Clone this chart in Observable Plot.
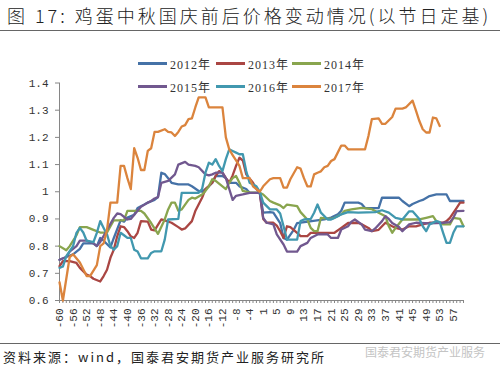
<!DOCTYPE html>
<html>
<head>
<meta charset="utf-8">
<script src="https://cdn.jsdelivr.net/npm/d3@7"></script>
<script src="https://cdn.jsdelivr.net/npm/@observablehq/plot@0.6"></script>
<style>
  html, body { margin: 0; padding: 0; background: #fff; }
  #wrap { position: relative; width: 500px; height: 374px; overflow: hidden; background: #fff; }
  #title { position: absolute; left: 7px; top: 5px; font-family: "Noto Sans CJK SC", sans-serif; font-weight: 300; font-size: 18px; line-height: 20px; letter-spacing: 3px; color: #222; white-space: nowrap; }
  .hr { position: absolute; left: 0; width: 500px; border-top: 1px solid #666; }
  #chart { position: absolute; left: 0; top: 40px; }
  #legend { position: absolute; left: 138px; top: 52px; display: grid; grid-template-columns: 78px 76px 78px; grid-auto-rows: 23px; }
  .item { display: flex; align-items: center; font-family: "Liberation Serif", "Noto Sans CJK SC", serif; font-size: 12px; letter-spacing: 1px; color: #333; white-space: nowrap; }
  .sw { display: inline-block; width: 29px; height: 3px; margin-right: 3px; }
  #source { position: absolute; left: 3px; top: 349px; font-family: "Noto Sans CJK SC", sans-serif; font-size: 13px; line-height: 16px; letter-spacing: 2px; color: #222; white-space: nowrap; }
  #wm { position: absolute; left: 365px; top: 344px; font-family: "Noto Sans CJK SC", sans-serif; font-size: 12px; line-height: 16px; color: #c4c4c4; white-space: nowrap; }
</style>
</head>
<body>
<div id="wrap">
  <div id="title">图 17: 鸡蛋中秋国庆前后价格变动情况(以节日定基)</div>
  <div class="hr" style="top:30px"></div>
  <div id="chart"></div>
  <div id="legend"></div>
  <div class="hr" style="top:343px"></div>
  <div id="source">资料来源：wind，国泰君安期货产业服务研究所</div>
  <div id="wm">国泰君安期货产业服务</div>
</div>
<script>
// ---- data (x = category position 0..119: days -60..-1, 1..60) ----
const years = ["2012年", "2013年", "2014年", "2015年", "2016年", "2017年"];
const colors = ["#4572A7", "#AA4643", "#89A54E", "#71588F", "#4198AF", "#DB843D"];
const xLabels = ["-60","-56","-52","-48","-44","-40","-36","-32","-28","-24","-20","-16","-12","-8","-4",
                 "1","5","9","13","17","21","25","29","33","37","41","45","49","53","57"];
const yTicks = [0.6, 0.7, 0.8, 0.9, 1.0, 1.1, 1.2, 1.3, 1.4];

const s2012 = [[0,0.75],[2,0.76],[4,0.77],[6,0.79],[7,0.81],[10,0.81],[11,0.80],[12,0.83],[13,0.82],[15,0.795],[16,0.83],[18,0.895],[19,0.89],[20,0.905],[22,0.915],[23,0.94],[25,0.953],[26,0.96],[28,0.97],[29,0.98],[30,1.07],[31,1.065],[32,1.05],[33,1.033],[35,1.027],[38,1.027],[39,1.02],[41,1.003],[42,1.0],[43,1.01],[44,1.02],[45,1.033],[46,1.058],[48,1.058],[49,1.05],[50,1.033],[52,1.033],[53,1.02],[55,1.01],[56,0.996],[59,0.996],[60,0.923],[62,0.925],[63,0.923],[65,0.885],[66,0.83],[67,0.824],[69,0.86],[70,0.885],[78,0.898],[80,0.905],[82,0.917],[83,0.93],[84,0.96],[88,0.96],[89,0.955],[90,0.94],[94,0.94],[95,0.978],[100,0.978],[101,0.966],[103,0.947],[104,0.955],[106,0.966],[107,0.97],[109,0.984],[111,0.99],[114,0.99],[115,0.966],[119,0.966]];
const s2013 = [[0,0.726],[1,0.745],[3,0.745],[5,0.738],[6,0.72],[8,0.695],[9,0.69],[10,0.68],[12,0.67],[13,0.69],[14,0.713],[15,0.757],[16,0.787],[17,0.836],[18,0.873],[19,0.87],[20,0.855],[21,0.836],[22,0.83],[23,0.849],[24,0.892],[26,0.89],[27,0.861],[28,0.858],[30,0.898],[31,0.895],[33,0.886],[35,0.87],[36,0.861],[37,0.865],[39,0.892],[40,0.929],[42,0.978],[43,1.01],[45,1.033],[46,1.058],[47,1.076],[48,1.07],[49,1.05],[50,1.033],[51,1.06],[52,1.095],[53,1.125],[54,1.115],[55,1.064],[57,1.033],[58,1.01],[59,0.996],[60,0.9],[61,0.886],[63,0.886],[64,0.875],[65,0.855],[66,0.83],[67,0.873],[68,0.87],[70,0.849],[71,0.837],[73,0.837],[74,0.849],[81,0.849],[83,0.867],[84,0.876],[85,0.885],[88,0.886],[89,0.88],[91,0.867],[92,0.855],[94,0.86],[96,0.886],[98,0.873],[99,0.867],[101,0.861],[103,0.873],[105,0.873],[107,0.88],[109,0.886],[113,0.886],[114,0.892],[115,0.904],[117,0.941],[118,0.96],[119,0.96]];
const s2014 = [[0,0.80],[2,0.785],[3,0.80],[5,0.84],[6,0.87],[8,0.87],[10,0.86],[12,0.85],[14,0.85],[16,0.895],[19,0.895],[20,0.93],[24,0.93],[25,0.92],[27,0.885],[29,0.845],[31,0.898],[32,0.935],[33,0.96],[34,0.96],[35,0.93],[36,0.935],[38,0.97],[39,0.978],[40,0.975],[42,0.99],[43,1.003],[44,1.02],[45,1.046],[46,1.04],[48,1.02],[49,1.01],[50,1.033],[51,1.05],[52,1.058],[53,1.033],[54,1.003],[56,0.998],[59,0.996],[60,0.99],[62,0.966],[63,0.96],[65,0.95],[66,0.94],[67,0.953],[70,0.947],[71,0.925],[73,0.898],[74,0.867],[75,0.855],[76,0.855],[77,0.904],[80,0.9],[81,0.904],[83,0.917],[84,0.93],[86,0.935],[89,0.941],[92,0.936],[94,0.923],[96,0.91],[97,0.873],[98,0.849],[99,0.867],[101,0.898],[106,0.898],[108,0.904],[110,0.91],[111,0.892],[113,0.88],[115,0.88],[116,0.904],[118,0.9],[119,0.873]];
const s2015 = [[0,0.75],[2,0.76],[3,0.78],[5,0.80],[6,0.82],[8,0.82],[10,0.81],[11,0.80],[12,0.815],[14,0.86],[16,0.904],[17,0.92],[18,0.918],[20,0.898],[21,0.9],[23,0.93],[24,0.945],[26,0.96],[27,0.966],[28,0.975],[29,0.98],[30,1.033],[32,1.04],[34,1.064],[35,1.1],[37,1.11],[38,1.1],[40,1.095],[41,1.09],[43,1.064],[44,1.06],[45,1.064],[46,1.07],[48,1.07],[49,1.05],[50,1.01],[51,0.97],[52,0.985],[54,0.99],[56,0.996],[59,0.996],[60,0.904],[61,0.886],[63,0.88],[64,0.843],[66,0.806],[67,0.78],[70,0.78],[71,0.8],[73,0.812],[74,0.83],[76,0.843],[79,0.843],[80,0.83],[82,0.83],[83,0.861],[85,0.873],[86,0.89],[87,0.898],[89,0.88],[90,0.861],[92,0.855],[93,0.865],[95,0.892],[96,0.91],[97,0.9],[98,0.885],[100,0.87],[101,0.855],[103,0.88],[105,0.886],[109,0.884],[113,0.886],[115,0.888],[116,0.904],[117,0.929],[119,0.93]];
const s2016 = [[0,0.72],[1,0.725],[2,0.763],[4,0.8],[5,0.849],[6,0.867],[7,0.85],[8,0.82],[10,0.815],[11,0.849],[12,0.892],[13,0.867],[14,0.843],[15,0.8],[16,0.787],[17,0.8],[18,0.849],[19,0.84],[20,0.83],[21,0.83],[22,0.787],[23,0.78],[24,0.755],[26,0.755],[27,0.775],[28,0.781],[30,0.781],[31,0.824],[32,0.898],[35,0.9],[36,0.996],[41,0.996],[42,1.01],[43,1.07],[44,1.107],[45,1.1],[46,1.12],[47,1.095],[48,1.076],[49,1.12],[50,1.156],[51,1.15],[52,1.144],[53,1.138],[54,1.138],[55,1.076],[56,1.033],[58,1.02],[59,1.0],[60,0.96],[62,0.935],[64,0.935],[65,0.92],[66,0.873],[67,0.824],[70,0.824],[71,0.892],[72,0.898],[74,0.9],[75,0.923],[76,0.953],[77,0.923],[79,0.898],[80,0.898],[82,0.91],[83,0.917],[85,0.925],[88,0.923],[93,0.925],[95,0.932],[97,0.923],[99,0.904],[101,0.898],[103,0.928],[104,0.928],[106,0.9],[107,0.873],[108,0.855],[109,0.88],[111,0.892],[112,0.888],[113,0.849],[114,0.812],[115,0.812],[116,0.849],[117,0.873],[119,0.873]];
const s2017 = [[0,0.667],[1,0.6],[3,0.76],[4,0.77],[6,0.74],[8,0.69],[9,0.69],[11,0.73],[12,0.80],[13,0.81],[14,0.86],[15,0.96],[17,0.96],[18,1.095],[19,1.095],[20,1.05],[21,1.01],[22,1.16],[23,1.125],[24,1.08],[25,1.08],[26,1.15],[27,1.16],[28,1.22],[29,1.22],[31,1.23],[32,1.22],[33,1.218],[34,1.205],[35,1.22],[36,1.24],[37,1.245],[38,1.267],[39,1.27],[40,1.31],[41,1.347],[43,1.347],[44,1.31],[48,1.31],[49,1.2],[50,1.156],[51,1.135],[52,1.115],[53,1.095],[54,1.05],[56,1.05],[57,1.02],[59,1.0],[60,1.02],[62,1.046],[63,1.05],[65,1.05],[66,1.015],[67,1.015],[68,1.046],[70,1.09],[71,1.085],[72,1.05],[73,1.02],[74,1.02],[75,1.064],[76,1.07],[77,1.075],[78,1.09],[79,1.095],[80,1.113],[81,1.12],[83,1.17],[84,1.17],[85,1.156],[90,1.156],[91,1.205],[92,1.267],[94,1.27],[95,1.25],[96,1.25],[98,1.275],[99,1.306],[101,1.306],[102,1.31],[104,1.335],[105,1.298],[106,1.26],[107,1.23],[108,1.218],[109,1.218],[110,1.273],[111,1.27],[112,1.242]];

const seriesList = [s2012, s2013, s2014, s2015, s2016, s2017];
const data = seriesList.flatMap((s, k) => s.map(([i, v]) => ({year: years[k], i, v})));
const allPos = d3.range(0, 120);
const labelPos = xLabels.map((_, k) => k * 4);

const axisGray = "#868686";
const chart = Plot.plot({
  width: 500,
  height: 300,
  marginLeft: 59,
  marginRight: 37,
  marginTop: 42.5,
  marginBottom: 40,
  x: {domain: [0, 119]},
  y: {domain: [0.6, 1.4]},
  color: {domain: years, range: colors},
  style: {fontFamily: "'Liberation Mono', monospace", fontSize: "11px", color: "#333", background: "transparent"},
  marks: [
    Plot.ruleX([0], {stroke: axisGray}),
    Plot.ruleY([0.6], {stroke: axisGray}),
    Plot.axisY({ticks: yTicks, tickSize: 4, tickPadding: 7, stroke: axisGray, fill: "#333", label: null,
      tickFormat: d => (Math.abs(d - 1) < 1e-9 ? "1" : d.toFixed(1))}),
    Plot.axisX({ticks: allPos, tickSize: 3, stroke: axisGray, text: null, label: null}),
    Plot.axisX({ticks: labelPos, tickSize: 0, tickPadding: 8, tickRotate: -90, fill: "#333", label: null,
      tickFormat: d => xLabels[Math.round(d / 4)]}),
    Plot.line(data, {x: "i", y: "v", z: "year", stroke: "year", strokeWidth: 2.3, strokeLinejoin: "round"})
  ]
});
document.getElementById("chart").appendChild(chart);

const legend = document.getElementById("legend");
years.forEach((y, k) => {
  const it = document.createElement("div");
  it.className = "item";
  const sw = document.createElement("span");
  sw.className = "sw";
  sw.style.background = colors[k];
  it.appendChild(sw);
  it.appendChild(document.createTextNode(y));
  legend.appendChild(it);
});
</script>
</body>
</html>
